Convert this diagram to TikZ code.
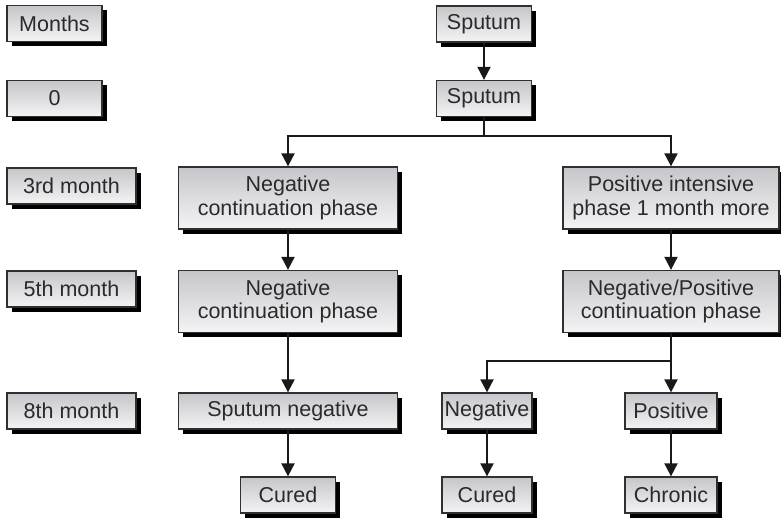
\documentclass[tikz,border=0pt]{standalone}
\usepackage{fontspec}
\setmainfont{Liberation Sans}
\usetikzlibrary{arrows.meta,shadows}
\definecolor{txt}{HTML}{2A2A2A}
\definecolor{bord}{HTML}{303030}
\definecolor{topc}{HTML}{C6C6CA}
\definecolor{botc}{HTML}{F4F4F6}
\begin{document}
\begin{tikzpicture}[x=1pt,y=-1pt,
  bx/.style={rectangle, draw=bord, line width=1.3pt, top color=topc, bottom color=botc,
    text=txt, inner sep=0pt, align=center,
    font=\fontsize{21.5}{23.5}\selectfont,
    general shadow={fill=black, shadow xshift=4.5pt, shadow yshift=-4.5pt}},
  sb/.style={bx, minimum height=36pt},
  db/.style={bx, minimum height=62pt},
  arr/.style={draw=black!90, line width=2pt, -{Triangle[width=13pt,length=13pt]}},
  ln/.style={draw=black!90, line width=2pt}]
\useasboundingbox (0,0) rectangle (781,517);
% month labels
\node[sb, minimum width=95pt] (months) at (54.5,23.5) {Months};
\node[sb, minimum width=95pt] (m0) at (54.5,98.5) {0};
\node[sb, minimum width=129pt] (m3) at (71.5,186) {3rd month};
\node[sb, minimum width=129pt] (m5) at (71.5,289) {5th month};
\node[sb, minimum width=129pt] (m8) at (71.5,411) {8th month};
% flow
\node[sb, minimum width=95pt] (s1) at (484,24) {Sputum};
\node[sb, minimum width=95pt] (s2) at (484,98.5) {Sputum};
\node[db, minimum width=219pt] (n3) at (288,198) {Negative\\continuation phase};
\node[db, minimum width=216pt] (p3) at (671,198) {Positive intensive\\phase 1 month more};
\node[db, minimum width=219pt] (n5) at (288,301.5) {Negative\\continuation phase};
\node[db, minimum width=216pt] (p5) at (671,301.5) {Negative/Positive\\continuation phase};
\node[sb, minimum width=219pt] (sn) at (288,411) {Sputum negative};
\node[sb, minimum width=90pt] (neg) at (487,411) {Negative};
\node[sb, minimum width=92pt] (pos) at (671,411) {Positive};
\node[sb, minimum width=95pt] (c1) at (288,495) {Cured};
\node[sb, minimum width=90pt] (c2) at (487,495) {Cured};
\node[sb, minimum width=92pt] (chr) at (671,495) {Chronic};
% connectors
\coordinate (j1) at (484,136);
\coordinate (j2) at (671,361);
\draw[arr] (s1) -- (s2);
\draw[ln] (s2) -- (j1);
\draw[arr] (j1) -| (n3);
\draw[arr] (j1) -| (p3);
\draw[arr] (n3) -- (n5);
\draw[arr] (n5) -- (sn);
\draw[arr] (sn) -- (c1);
\draw[arr] (p3) -- (p5);
\draw[ln] (p5) -- (j2);
\draw[arr] (j2) -| (neg);
\draw[arr] (j2) -- (pos);
\draw[arr] (neg) -- (c2);
\draw[arr] (pos) -- (chr);
\end{tikzpicture}
\end{document}
